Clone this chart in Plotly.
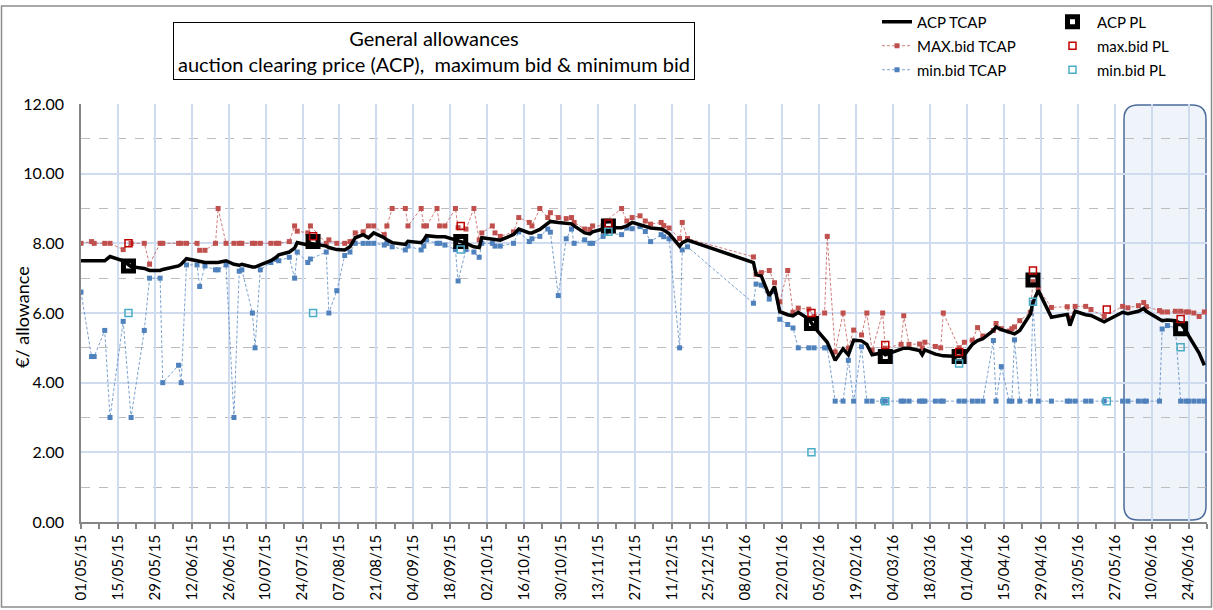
import plotly.graph_objects as go

# ---------------- data ----------------
dates_tcap = [
    "2015-05-01", "2015-05-05", "2015-05-06", "2015-05-10", "2015-05-12", "2015-05-17", "2015-05-20", "2015-05-25", "2015-05-27", "2015-05-31",
    "2015-06-01", "2015-06-07", "2015-06-08", "2015-06-10", "2015-06-14", "2015-06-15", "2015-06-17", "2015-06-21", "2015-06-22", "2015-06-25",
    "2015-06-28", "2015-06-30", "2015-07-01", "2015-07-05", "2015-07-06", "2015-07-08", "2015-07-12", "2015-07-14", "2015-07-15", "2015-07-19",
    "2015-07-21", "2015-07-22", "2015-07-26", "2015-07-27", "2015-08-02", "2015-08-03", "2015-08-06", "2015-08-09", "2015-08-11", "2015-08-13",
    "2015-08-16", "2015-08-18", "2015-08-20", "2015-08-24", "2015-08-25", "2015-08-27", "2015-09-01", "2015-09-02", "2015-09-07", "2015-09-08",
    "2015-09-09", "2015-09-13", "2015-09-14", "2015-09-16", "2015-09-20", "2015-09-21", "2015-09-24", "2015-09-27", "2015-09-29", "2015-09-30",
    "2015-10-04", "2015-10-05", "2015-10-07", "2015-10-12", "2015-10-14", "2015-10-18", "2015-10-19", "2015-10-22", "2015-10-25", "2015-10-26",
    "2015-10-29", "2015-11-01", "2015-11-03", "2015-11-04", "2015-11-08", "2015-11-10", "2015-11-11", "2015-11-15", "2015-11-16", "2015-11-22",
    "2015-11-24", "2015-11-26", "2015-11-29", "2015-12-01", "2015-12-03", "2015-12-07", "2015-12-08", "2015-12-10", "2015-12-14", "2015-12-15",
    "2015-12-17", "2016-01-11", "2016-01-12", "2016-01-14", "2016-01-17", "2016-01-19", "2016-01-21", "2016-01-24", "2016-01-26", "2016-01-28",
    "2016-02-01", "2016-02-03", "2016-02-07", "2016-02-08", "2016-02-11", "2016-02-14", "2016-02-16", "2016-02-18", "2016-02-21", "2016-02-23",
    "2016-02-25", "2016-02-29", "2016-03-01", "2016-03-07", "2016-03-08", "2016-03-10", "2016-03-14", "2016-03-15", "2016-03-16", "2016-03-20",
    "2016-03-22", "2016-03-23", "2016-03-29", "2016-03-31", "2016-04-03", "2016-04-05", "2016-04-07", "2016-04-11", "2016-04-12", "2016-04-14",
    "2016-04-17", "2016-04-18", "2016-04-19", "2016-04-21", "2016-04-25", "2016-04-26", "2016-04-28", "2016-05-03", "2016-05-09", "2016-05-10",
    "2016-05-12", "2016-05-16", "2016-05-18", "2016-05-23", "2016-05-30", "2016-06-01", "2016-06-05", "2016-06-07", "2016-06-08", "2016-06-13",
    "2016-06-14", "2016-06-16", "2016-06-19", "2016-06-21", "2016-06-23", "2016-06-24", "2016-06-26", "2016-06-28", "2016-06-30",
]

max_tcap = [
    8.0, 8.05, 8.0, 8.0, 8.0, 7.82, 8.0, 8.0, 7.4, 8.0,
    8.0, 8.0, 8.0, 8.0, 8.0, 7.8, 7.8, 8.0, 9.0, 8.0,
    8.0, 8.0, 8.0, 8.0, 8.0, 8.0, 8.0, 8.0, 8.0, 8.05,
    8.5, 8.35, 8.3, 8.5, 8.0, 8.1, 8.0, 8.0, 8.05, 8.3,
    8.33, 8.5, 8.5, 8.25, 8.5, 9.0, 9.0, 8.5, 9.0, 8.5,
    8.5, 9.0, 8.5, 8.5, 9.0, 8.45, 8.41, 9.0, 8.1, 8.3,
    8.5, 8.3, 8.2, 8.33, 8.74, 8.6, 8.5, 9.0, 8.74, 8.88,
    8.74, 8.71, 8.74, 8.6, 8.41, 8.4, 8.5, 8.5, 8.64, 9.0,
    8.64, 8.74, 8.79, 8.64, 8.55, 8.6, 8.51, 8.44, 8.14, 8.6,
    8.14, 7.61, 7.11, 7.16, 7.22, 6.87, 6.32, 7.22, 6.02, 6.14,
    6.11, 5.9, 6.0, 8.2, 4.88, 6.0, 4.99, 5.51, 5.37, 6.0,
    4.93, 6.0, 4.99, 5.1, 5.92, 5.1, 5.11, 5.0, 5.16, 5.04,
    5.0, 6.0, 5.0, 5.16, 5.22, 5.58, 5.34, 5.5, 5.7, 5.55,
    5.48, 5.55, 5.6, 5.78, 6.02, 6.9, 6.7, 6.16, 6.18, 5.85,
    6.19, 6.19, 6.1, 5.9, 6.19, 6.15, 6.21, 6.3, 6.18, 6.07,
    6.03, 6.03, 6.05, 6.05, 6.03, 6.03, 6.0, 5.9, 6.03,
]

min_tcap = [
    6.6, 4.75, 4.75, 5.5, 3.0, 5.76, 3.0, 5.5, 7.0, 7.0,
    4.0, 4.5, 4.0, 7.38, 7.38, 6.76, 7.35, 7.24, 7.24, 7.38,
    3.0, 7.2, 7.24, 6.0, 5.0, 7.24, 7.45, 7.54, 7.5, 7.6,
    7.0, 7.75, 7.45, 7.55, 7.75, 6.0, 6.64, 7.65, 7.75, 8.0,
    8.0, 8.0, 8.0, 7.95, 8.0, 7.9, 7.81, 7.92, 7.81, 7.92,
    8.1, 8.0, 8.0, 7.95, 7.82, 6.92, 7.82, 7.75, 7.6, 8.0,
    8.0, 7.92, 7.92, 8.0, 8.33, 8.05, 8.13, 8.2, 8.41, 8.32,
    6.5, 8.13, 8.41, 8.0, 8.1, 8.0, 8.0, 8.2, 8.3, 8.25,
    8.44, 8.42, 8.48, 8.34, 8.05, 8.25, 8.19, 8.13, 5.0, 7.81,
    7.9, 6.28, 6.83, 6.8, 6.4, 6.62, 5.82, 5.67, 5.57, 5.0,
    5.0, 5.0, 5.0, 5.0, 3.47, 3.47, 4.64, 3.47, 5.03, 3.47,
    3.47, 3.47, 3.47, 3.47, 3.47, 3.47, 3.47, 3.47, 3.47, 3.47,
    3.47, 3.47, 3.47, 3.47, 3.47, 3.47, 3.47, 5.21, 3.47, 4.46,
    3.47, 3.47, 5.23, 3.47, 3.47, 6.3, 3.47, 3.47, 3.47, 3.47,
    3.47, 3.47, 3.47, 3.47, 3.47, 3.47, 3.47, 3.47, 3.47, 3.47,
    5.54, 5.64, 5.57, 3.47, 3.47, 3.47, 3.47, 3.47, 3.47,
]

acp_tcap = [
    7.5, 7.5, 7.5, 7.5, 7.62, 7.5, 7.33, 7.28, 7.22, 7.22,
    7.25, 7.35, 7.4, 7.56, 7.5, 7.48, 7.45, 7.45, 7.45, 7.5,
    7.4, 7.37, 7.4, 7.32, 7.32, 7.38, 7.5, 7.6, 7.67, 7.75,
    7.86, 8.02, 7.95, 8.0, 7.92, 7.88, 7.82, 7.81, 7.9, 8.16,
    8.25, 8.16, 8.3, 8.16, 8.1, 8.02, 7.97, 8.06, 8.02, 8.1,
    8.22, 8.19, 8.19, 8.19, 8.1, 8.08, 8.0, 7.9, 7.88, 8.16,
    8.13, 8.11, 8.09, 8.25, 8.41, 8.3, 8.3, 8.4, 8.57, 8.63,
    8.6, 8.57, 8.56, 8.5, 8.3, 8.27, 8.33, 8.41, 8.45, 8.45,
    8.5, 8.6, 8.53, 8.5, 8.44, 8.41, 8.38, 8.28, 7.92, 8.02,
    8.09, 7.45, 7.11, 7.06, 6.49, 6.76, 6.04, 5.95, 5.92, 6.02,
    5.83, 5.6, 5.25, 5.16, 4.64, 4.97, 4.8, 5.22, 5.2, 5.1,
    4.8, 4.86, 4.8, 4.95, 4.99, 4.99, 4.92, 4.8, 4.94, 4.82,
    4.78, 4.77, 4.75, 4.8, 5.1, 5.21, 5.26, 5.5, 5.6, 5.52,
    5.45, 5.42, 5.4, 5.5, 5.97, 6.3, 6.65, 5.88, 5.96, 5.64,
    6.05, 5.95, 5.93, 5.75, 6.02, 5.98, 6.05, 6.13, 6.05, 5.82,
    5.78, 5.8, 5.78, 5.7, 5.5, 5.35, 5.1, 4.85, 4.5,
]

dates_pl = ["2015-05-19", "2015-07-28", "2015-09-22", "2015-11-17", "2016-02-02",
            "2016-03-01", "2016-03-29", "2016-04-26", "2016-05-24", "2016-06-21"]
acp_pl = [7.35, 8.05, 8.05, 8.5, 5.7, 4.75, 4.75, 6.95, None, 5.55]
max_pl = [8.0, 8.2, 8.5, 8.57, 6.0, 5.08, 4.88, 7.22, 6.1, 5.83]
min_pl = [6.0, 6.0, 7.82, 8.33, 2.0, 3.47, 4.55, 6.32, 3.47, 5.02]

title_lines = ["General allowances", "auction clearing price (ACP),\u00a0 maximum bid & minimum bid"]
y_title = "€/ allowance"
x_start, x_end = "2015-05-01", "2016-07-01"

# ---------------- figure ----------------
FONT = "Lato"
W, H = 1213, 610
ML, MR, MT, MB = 81, 6, 102, 88
PW, PH = W - ML - MR, H - MT - MB
DAY = 86400000

fig = go.Figure()

fig.add_trace(go.Scatter(
    x=dates_tcap, y=max_tcap, mode="lines+markers", name="MAX.bid TCAP",
    line=dict(color="rgba(192,80,77,0.75)", width=1, dash="3px,2px"),
    marker=dict(symbol="square", size=5, color="#c0504d"),
    legend="legend", legendrank=2, legendgroup="b"))
fig.add_trace(go.Scatter(
    x=dates_tcap, y=min_tcap, mode="lines+markers", name="min.bid TCAP",
    line=dict(color="rgba(79,129,189,0.75)", width=1, dash="3px,2px"),
    marker=dict(symbol="square", size=5, color="#4f81bd"),
    legend="legend", legendrank=3, legendgroup="c"))
fig.add_trace(go.Scatter(
    x=dates_tcap, y=acp_tcap, mode="lines", name="ACP TCAP",
    line=dict(color="black", width=3.5),
    legend="legend", legendrank=1, legendgroup="a"))
fig.add_trace(go.Scatter(
    x=dates_pl, y=acp_pl, mode="markers", name="ACP PL",
    marker=dict(symbol="square-open", size=10, color="black", line=dict(width=5, color="black")),
    legend="legend2", legendrank=1, legendgroup="d"))
fig.add_trace(go.Scatter(
    x=dates_pl, y=max_pl, mode="markers", name="max.bid PL",
    marker=dict(symbol="square-open", size=7, color="#c00000", line=dict(width=1.5, color="#c00000")),
    legend="legend2", legendrank=2, legendgroup="e"))
fig.add_trace(go.Scatter(
    x=dates_pl, y=min_pl, mode="markers", name="min.bid PL",
    marker=dict(symbol="square-open", size=7, color="#4bacc6", line=dict(width=1.5, color="#4bacc6")),
    legend="legend2", legendrank=3, legendgroup="f"))


def px2paper_x(p):
    return (p - ML) / PW


def py2paper_y(p):
    return (H - MB - p) / PH


# highlighted (rounded) box
x0, x1 = px2paper_x(1124), px2paper_x(1206)
y0, y1 = py2paper_y(520), py2paper_y(103)
rx, ry = 14 / PW, 14 / PH
path = (f"M {x0+rx},{y0} L {x1-rx},{y0} Q {x1},{y0} {x1},{y0+ry} "
        f"L {x1},{y1-ry} Q {x1},{y1} {x1-rx},{y1} L {x0+rx},{y1} "
        f"Q {x0},{y1} {x0},{y1-ry} L {x0},{y0+ry} Q {x0},{y0} {x0+rx},{y0} Z")
fig.add_shape(type="path", path=path, xref="paper", yref="paper", layer="below",
              fillcolor="rgba(226,233,245,0.55)", line=dict(color="#4a6b9b", width=1.5))

# chart-area border
fig.add_shape(type="rect", xref="paper", yref="paper",
              x0=px2paper_x(1.5), x1=px2paper_x(1211.5), y0=py2paper_y(607.5), y1=py2paper_y(3.5),
              line=dict(color="#8c8c8c", width=1.5), fillcolor="rgba(0,0,0,0)", layer="below")

# title box
fig.add_annotation(
    xref="paper", yref="paper", x=px2paper_x(434), y=py2paper_y(49),
    xanchor="center", yanchor="middle", showarrow=False,
    text="<br>".join(title_lines), align="center",
    width=520, height=56, borderpad=0,
    bordercolor="black", borderwidth=1, bgcolor="white",
    font=dict(family=FONT, size=20, color="black"))

# y-axis title
fig.add_annotation(
    xref="paper", yref="paper", x=px2paper_x(22), y=py2paper_y(316),
    xanchor="center", yanchor="middle", showarrow=False, textangle=-90,
    text=y_title, font=dict(family=FONT, size=18, color="black"))

fig.update_layout(
    width=W, height=H,
    margin=dict(l=ML, r=MR, t=MT, b=MB),
    paper_bgcolor="white", plot_bgcolor="rgba(0,0,0,0)",
    font=dict(family=FONT, size=15, color="black"),
    showlegend=True,
    legend=dict(x=px2paper_x(877), y=py2paper_y(3), xanchor="left", yanchor="top",
                bgcolor="rgba(0,0,0,0)", font=dict(family=FONT, size=15),
                tracegroupgap=1.5, itemwidth=30),
    legend2=dict(x=px2paper_x(1048), y=py2paper_y(3), xanchor="left", yanchor="top",
                 bgcolor="rgba(0,0,0,0)", font=dict(family=FONT, size=15),
                 tracegroupgap=1.5, itemwidth=39),
    xaxis=dict(
        type="date", range=[x_start, x_end],
        tick0=x_start, dtick=14 * DAY, tickformat="%d/%m/%y", tickangle=-90,
        showgrid=True, gridcolor="#cfdbef", gridwidth=1.5,
        showline=True, linecolor="#868686", linewidth=1.5,
        ticks="outside", ticklen=5, tickcolor="#868686", tickwidth=1.5,
        tickfont=dict(family=FONT, size=15),
        minor=dict(tick0=x_start, dtick=7 * DAY, ticks="outside", ticklen=5,
                   tickcolor="#868686", tickwidth=1.5, showgrid=False),
        zeroline=False),
    yaxis=dict(
        range=[0, 12], dtick=2, tick0=0, tickformat=".2f",
        showgrid=True, gridcolor="#cfdbef", gridwidth=1.5,
        showline=True, linecolor="#868686", linewidth=1.5,
        ticks="", ticklabelstandoff=12,
        tickfont=dict(family=FONT, size=16),
        minor=dict(dtick=1, tick0=0, showgrid=True, gridcolor="#bdbdbd",
                   griddash="dash", gridwidth=1),
        zeroline=False),
)

fig.write_html("out.html", config={"displayModeBar": False},
               post_script="document.body.style.margin='0px';")
